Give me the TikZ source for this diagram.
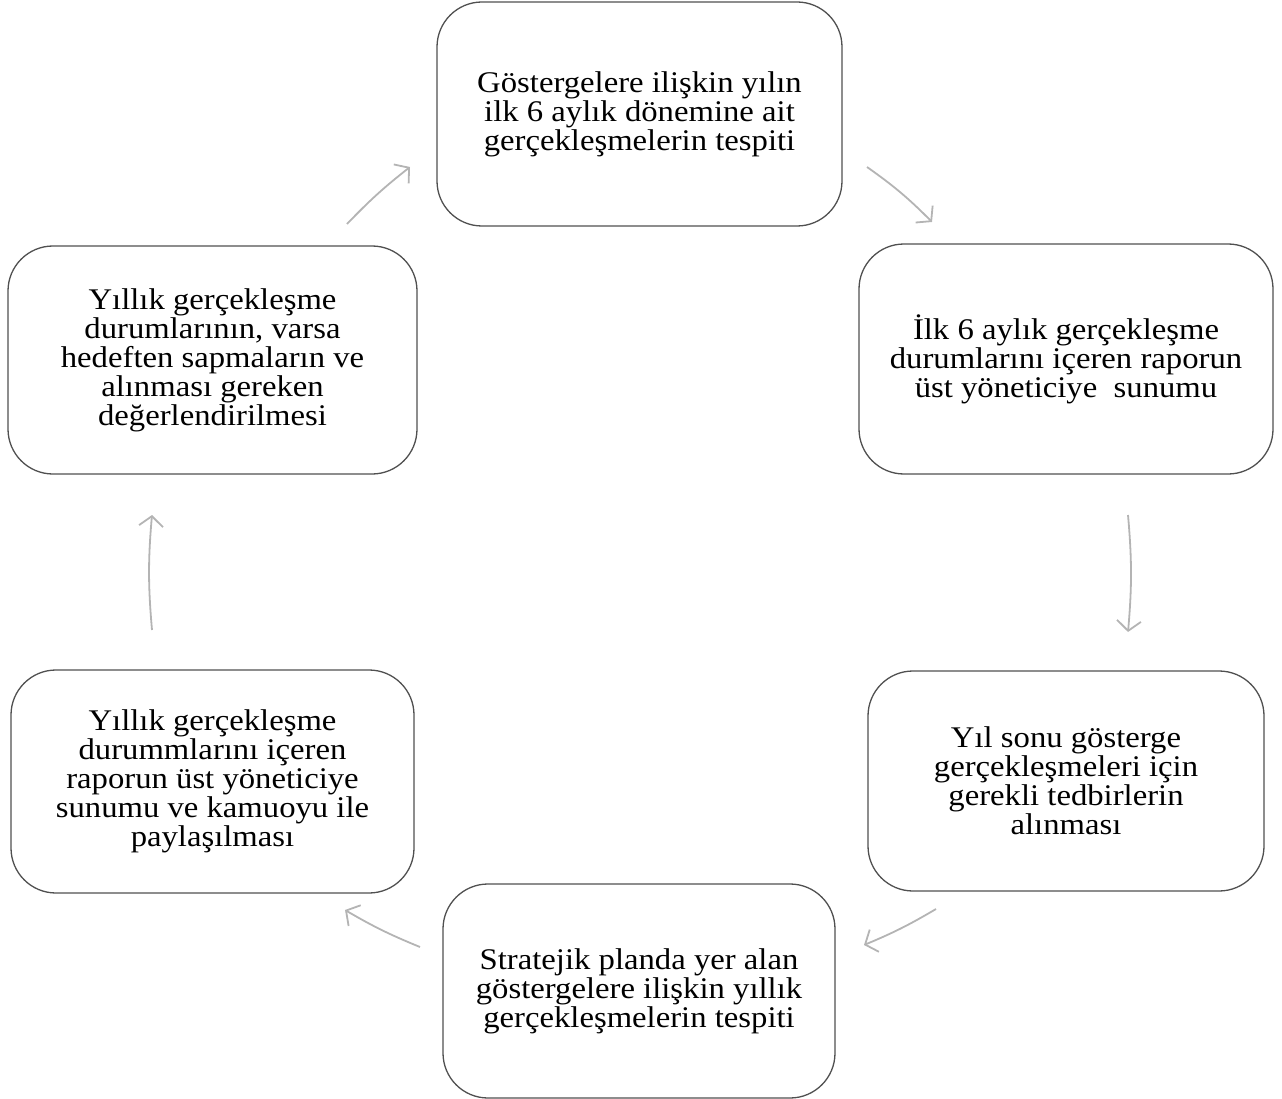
\documentclass[tikz,border=0pt]{standalone}
\usepackage{fontspec}
\setmainfont{Liberation Serif}[FakeStretch=1.09]
\usetikzlibrary{arrows.meta}
\definecolor{boxline}{HTML}{505050}
\definecolor{arrowgray}{HTML}{B4B4B4}
\begin{document}
\begin{tikzpicture}[x=1pt,y=-1pt,
    stage/.style={draw=boxline,line width=1.3pt,rounded corners=45pt,align=center,
      font=\fontsize{30}{29}\selectfont,inner sep=0pt},
    cycle/.style={draw=arrowgray,line width=1.8pt,
      -{Straight Barb[length=10pt,width=24pt,line width=1.8pt]}}]
  \useasboundingbox (0,0) rectangle (1282,1099);
  % stages
  \node[stage,minimum width=405pt,minimum height=224pt] (1) at (639.5,114)
    {Göstergelere ilişkin yılın\\ilk 6 aylık dönemine ait\\gerçekleşmelerin tespiti};
  \node[stage,minimum width=414pt,minimum height=230pt] (2) at (1066,359)
    {İlk 6 aylık gerçekleşme\\durumlarını içeren raporun\\üst yöneticiye\ \ sunumu};
  \node[stage,minimum width=396pt,minimum height=220pt] (3) at (1066,781)
    {Yıl sonu gösterge\\gerçekleşmeleri için\\gerekli tedbirlerin\\alınması};
  \node[stage,minimum width=392pt,minimum height=214pt] (4) at (639,991)
    {Stratejik planda yer alan\\göstergelere ilişkin yıllık\\gerçekleşmelerin tespiti};
  \node[stage,minimum width=403pt,minimum height=223pt] (5) at (212.5,781.5)
    {Yıllık gerçekleşme\\durummlarını içeren\\raporun üst yöneticiye\\sunumu ve kamuoyu ile\\paylaşılması};
  \node[stage,minimum width=409pt,minimum height=228pt] (6) at (212.5,360)
    {Yıllık gerçekleşme\\durumlarının, varsa\\hedeften sapmaların ve\\alınması gereken\\değerlendirilmesi};
  % arrow ends
  \coordinate (a1) at (867,167);  \coordinate (b1) at (932,222);
  \coordinate (a2) at (1128,515); \coordinate (b2) at (1128,632);
  \coordinate (a3) at (936,909);  \coordinate (b3) at (864,945);
  \coordinate (a4) at (420,947);  \coordinate (b4) at (345,910);
  \coordinate (a5) at (152,630);  \coordinate (b5) at (152,515);
  \coordinate (a6) at (347,224);  \coordinate (b6) at (410,167);
  \begin{scope}[cycle]
    \draw (a1) to[bend left=5] (b1);
    \draw (a2) to[bend left=5] (b2);
    \draw (a3) to[bend left=4] (b3);
    \draw (a4) to[bend left=4] (b4);
    \draw (a5) to[bend left=5] (b5);
    \draw (a6) to[bend left=4] (b6);
  \end{scope}
\end{tikzpicture}
\end{document}
